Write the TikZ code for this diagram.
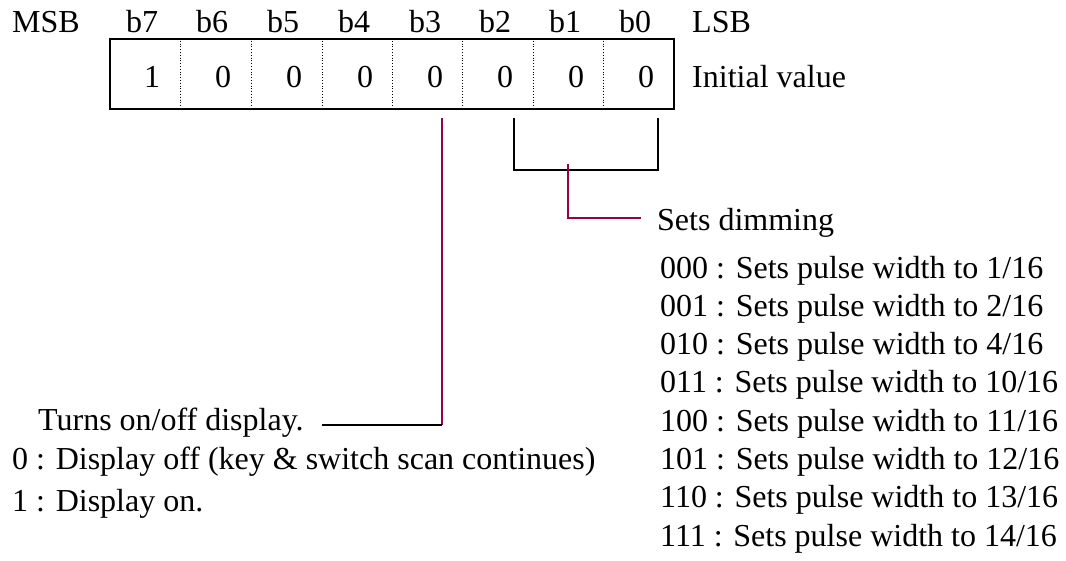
\documentclass[tikz,border=0pt]{standalone}
\usepackage{fontspec}
\setmainfont{Liberation Serif}
\definecolor{maroon}{RGB}{150,0,72}
\begin{document}
\begin{tikzpicture}[x=1pt,y=-1pt,
  txt/.style={inner sep=0pt,anchor=base west,font=\fontsize{32}{32}\selectfont},
  hdr/.style={inner sep=0pt,anchor=base,font=\fontsize{32}{32}\selectfont},
  frame/.style={draw=black,line width=1.6pt},
  divider/.style={draw=black,line width=0.8pt,dotted},
  bracket/.style={draw=black,line width=1.8pt},
  lead/.style={draw=maroon,line width=1.4pt},
  blead/.style={draw=black,line width=1.4pt}]
\useasboundingbox (0,0) rectangle (1066,560);
% register box
\node[frame,minimum width=564pt,minimum height=70pt,inner sep=0pt,anchor=north west] (reg) at (109,38) {};
\foreach \x in {180,251,322,392,462,533,603} {\draw[divider] (\x,38) -- (\x,108);}
% header
\node[txt] (msb) at (12,32) {MSB};
\node[hdr] (h7) at (142,32) {b7};
\node[hdr] (h6) at (212,32) {b6};
\node[hdr] (h5) at (283,32) {b5};
\node[hdr] (h4) at (354,32) {b4};
\node[hdr] (h3) at (425,32) {b3};
\node[hdr] (h2) at (495,32) {b2};
\node[hdr] (h1) at (565,32) {b1};
\node[hdr] (h0) at (635,32) {b0};
\node[txt] (lsb) at (692,32) {LSB};
% values
\node[hdr] (v7) at (152,87) {1};
\node[hdr] (v6) at (223,87) {0};
\node[hdr] (v5) at (294,87) {0};
\node[hdr] (v4) at (365,87) {0};
\node[hdr] (v3) at (435,87) {0};
\node[hdr] (v2) at (505,87) {0};
\node[hdr] (v1) at (576,87) {0};
\node[hdr] (v0) at (646,87) {0};
\node[txt] (init) at (692,87) {Initial value};
% bracket b2..b0
\coordinate (bl) at (514,118);
\coordinate (br) at (658,118);
\draw[bracket] (bl) -- (514,170) -- (658,170) -- (br);
\coordinate (bm) at (568,164);
% dimming text
\node[txt] (dim) at (657,230) {Sets dimming};
\coordinate (dimend) at (641,218);
\draw[lead] (bm) |- (dimend);
\foreach \t [count=\i from 0] in {000 : Sets pulse width to 1/16,001 : Sets pulse width to 2/16,010 : Sets pulse width to 4/16,011 : Sets pulse width to 10/16,100 : Sets pulse width to 11/16,101 : Sets pulse width to 12/16,110 : Sets pulse width to 13/16,111 : Sets pulse width to 14/16}
  {\node[txt] (p\i) at (660,278+38.3*\i) {\t};}
% display on/off
\coordinate (b3top) at (442,118);
\coordinate (b3bot) at (442,425);
\node[txt] (turns) at (38,430) {Turns on/off display.};
\coordinate (turnsend) at (322,425);
\draw[lead] (b3top) -- (b3bot);
\draw[blead] (turnsend) -- (b3bot);
\node[txt] (d0) at (12,469) {0 : Display off (key \& switch scan continues)};
\node[txt] (d1) at (12,511) {1 : Display on.};
\end{tikzpicture}
\end{document}
